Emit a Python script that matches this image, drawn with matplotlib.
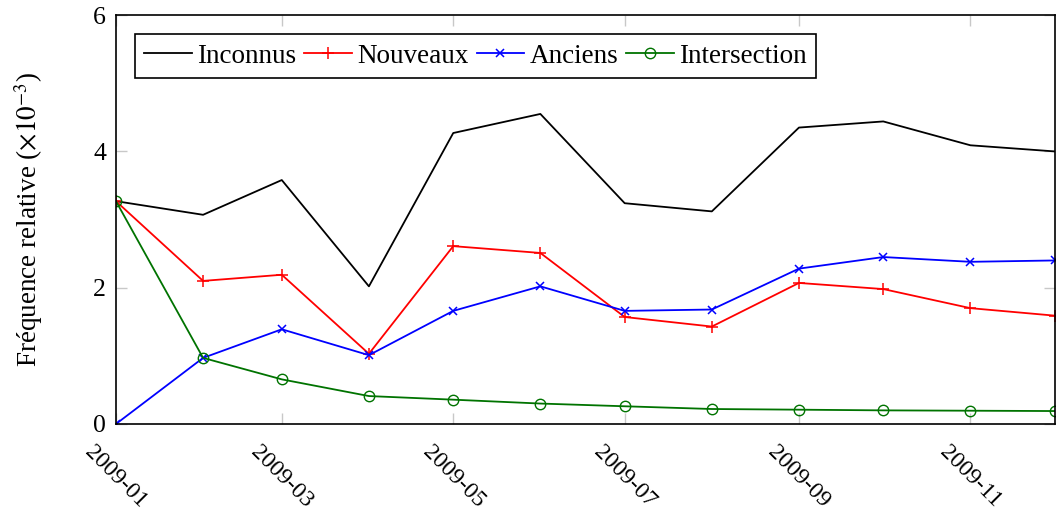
import datetime as dt

import matplotlib
matplotlib.use("Agg")
import matplotlib.dates as mdates
import matplotlib.pyplot as plt

# monthly relative frequencies (x 10^-3)
months = [dt.date(2009, m, 1) for m in range(1, 13)]
inconnus = [3.27, 3.07, 3.58, 2.02, 4.27, 4.55, 3.24, 3.12, 4.35, 4.44, 4.09, 4.00]
nouveaux = [3.27, 2.10, 2.19, 1.03, 2.61, 2.51, 1.57, 1.43, 2.07, 1.98, 1.70, 1.59]
anciens = [0.00, 0.97, 1.39, 1.01, 1.66, 2.02, 1.66, 1.68, 2.28, 2.45, 2.38, 2.40]
intersection = [3.27, 0.97, 0.655, 0.41, 0.357, 0.30, 0.26, 0.22, 0.21, 0.20, 0.195, 0.19]

plt.rcParams["font.family"] = ["Liberation Serif", "DejaVu Serif"]
plt.rcParams["mathtext.fontset"] = "stix"

fig = plt.figure(figsize=(10.56, 5.13), dpi=100)
ax = fig.add_axes([0.1098, 0.1735, 0.889, 0.797])

lw = 1.3
green = (0, 0.45, 0)
ax.plot(months, inconnus, color="black", lw=lw, label="Inconnus")
ax.plot(months, nouveaux, color="red", lw=lw, marker="+", ms=8,
        mew=1.1, label="Nouveaux")
ax.plot(months, anciens, color="blue", lw=lw, marker="x", ms=6,
        mew=1.1, label="Anciens")
ax.plot(months, intersection, color=green, lw=lw, marker="o", ms=7.5,
        mfc="none", mew=1.0, label="Intersection")

ax.set_xlim(months[0], months[-1])
ax.set_ylim(0, 6)
ax.set_yticks([0, 2, 4, 6])
ax.xaxis.set_major_locator(mdates.MonthLocator(bymonth=[1, 3, 5, 7, 9, 11]))
ax.xaxis.set_major_formatter(mdates.DateFormatter("%Y-%m"))

ax.tick_params(direction="in", length=8, width=1, color="#c8c8c8",
               top=True, right=True, pad=7)
ax.tick_params(axis="y", labelsize=18.5)
ax.tick_params(axis="x", labelsize=17, pad=13)
for lab in ax.get_xticklabels():
    lab.set_rotation(-45)
    lab.set_ha("center")
    lab.set_va("top")

for sp in ax.spines.values():
    sp.set_linewidth(1.2)
    sp.set_zorder(5)

ax.set_ylabel(r"Fréquence relative ($\times 10^{-3}$)", fontsize=19.5, labelpad=35)

leg = ax.legend(loc="upper left", ncol=4, fontsize=19.5, frameon=True,
                fancybox=False, edgecolor="black", framealpha=1,
                handlelength=1.75, handletextpad=0.2, columnspacing=0.3,
                borderpad=0.35, borderaxespad=0.7)
leg.get_frame().set_linewidth(1.2)

fig.savefig("out.png", dpi=100)
